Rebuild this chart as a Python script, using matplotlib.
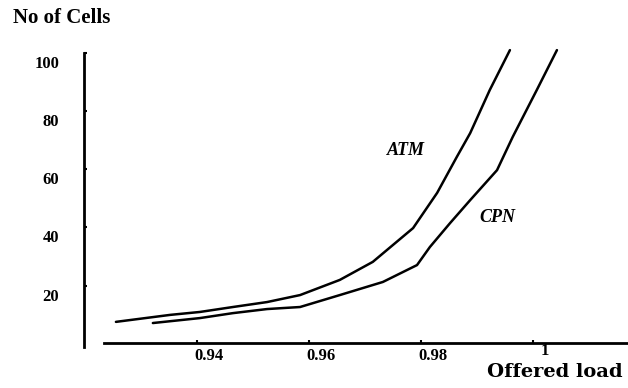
import matplotlib
matplotlib.use("Agg")
import matplotlib.pyplot as plt
from matplotlib.transforms import ScaledTranslation

# values
atm_load = [0.9255, 0.9352, 0.9405, 0.9464, 0.9525, 0.9584, 0.9655, 0.9714,
            0.9786, 0.9829, 0.9864, 0.9888, 0.9923, 0.9959]
atm_cells = [7.6, 10.0, 11.0, 12.7, 14.4, 16.8, 22.0, 28.2,
             39.8, 51.9, 64.2, 72.4, 87.2, 100.9]

cpn_load = [0.9321, 0.9405, 0.9464, 0.9525, 0.9584, 0.9655, 0.9732, 0.9793,
            0.9816, 0.9852, 0.9888, 0.9936, 0.9964, 1.0007, 1.0043]
cpn_cells = [7.2, 8.9, 10.6, 12.0, 12.7, 16.8, 21.3, 27.1,
             33.3, 41.5, 49.4, 59.7, 71.1, 87.2, 100.9]

x_ticks = [0.94, 0.96, 0.98, 1.0]
x_labels = ['0.94', '0.96', '0.98', '1']
y_ticks = [20, 40, 60, 80, 100]
y_labels = ['20', '40', '60', '80', '100']

serif = 'Liberation Serif'

fig = plt.figure(figsize=(6.28, 3.88), dpi=100)
ax = fig.add_axes([0.1338, 0.1031, 0.8662, 0.7835])

ax.plot(atm_load, atm_cells, color='black', lw=1.8, solid_capstyle='round')
ax.plot(cpn_load, cpn_cells, color='black', lw=1.8, solid_capstyle='round')

ax.set_xlim(0.9198, 1.017)
ax.set_ylim(-1.37, 103.0)

# axis lines
ax.spines['top'].set_visible(False)
ax.spines['right'].set_visible(False)
ax.spines['left'].set_linewidth(2.0)
ax.spines['left'].set_bounds(-1.0, 100)
ax.spines['bottom'].set_linewidth(2.0)
ax.spines['bottom'].set_position(('data', 0.5))
ax.spines['bottom'].set_bounds(0.9234, 1.017)

ax.set_xticks(x_ticks, x_labels)
ax.set_yticks(y_ticks, y_labels)
ax.tick_params(axis='both', direction='in', length=2, width=1.5)
ax.tick_params(axis='x', pad=4)
ax.tick_params(axis='y', pad=18)

xlabs = ax.get_xticklabels()
for i, lab in enumerate(xlabs):
    lab.set_fontfamily(serif)
    lab.set_fontweight('bold')
    lab.set_fontsize(12)
    dy = 0.05 if i == len(xlabs) - 1 else 0  # "1" sits a bit higher
    lab.set_transform(lab.get_transform() + ScaledTranslation(0.12, dy, fig.dpi_scale_trans))
for lab in ax.get_yticklabels():
    lab.set_fontfamily(serif)
    lab.set_fontweight('bold')
    lab.set_fontsize(12)
    lab.set_transform(lab.get_transform() + ScaledTranslation(0, -0.09, fig.dpi_scale_trans))

# curve labels
ax.text(0.9773, 66.6, 'ATM', family=serif, style='italic', weight='bold',
        fontsize=13, ha='center', va='center')
ax.text(0.9936, 43.6, 'CPN', family=serif, style='italic', weight='bold',
        fontsize=13, ha='center', va='center')

fig.text(0.0987, 0.9536, 'No of Cells', family=serif, weight='bold',
         fontsize=15, ha='center', va='center')
fig.text(0.8838, 0.040, 'Offered load', family='DejaVu Serif', weight='bold',
         fontsize=14, ha='center', va='center')

fig.savefig('out.png', dpi=100)
